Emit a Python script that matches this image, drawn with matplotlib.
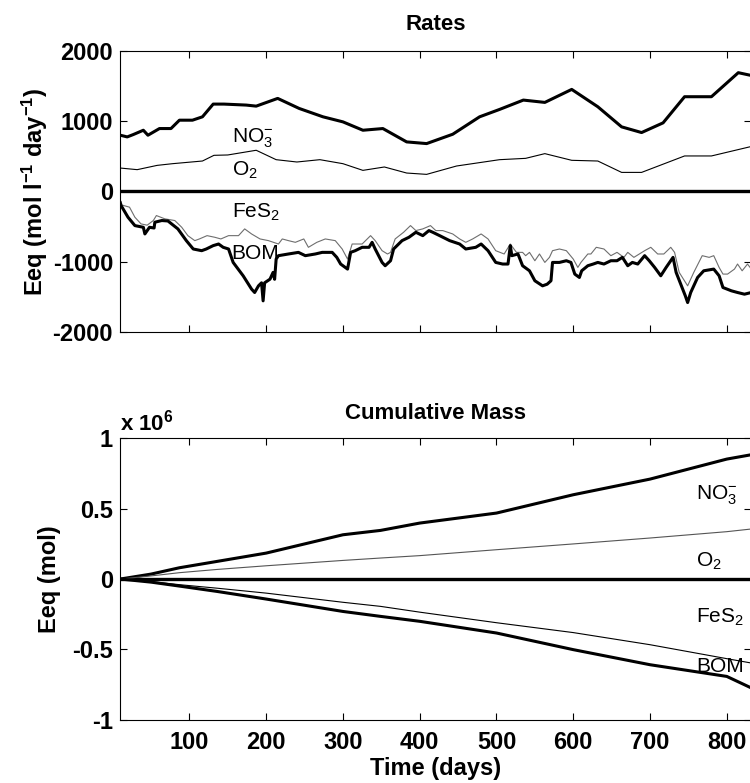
import matplotlib
matplotlib.use("Agg")
import matplotlib.pyplot as plt
from matplotlib.ticker import FuncFormatter

plt.rcParams['font.family'] = ['Liberation Sans', 'DejaVu Sans']
plt.rcParams['axes.unicode_minus'] = False
plt.rcParams['mathtext.fontset'] = 'custom'
plt.rcParams['mathtext.rm'] = 'Liberation Sans'
plt.rcParams['mathtext.it'] = 'Liberation Sans'
plt.rcParams['mathtext.bf'] = 'Liberation Sans:bold'

# ---- rates (Eeq mol l-1 day-1) ----
no3_day = [10, 19, 27, 40, 46, 61, 76, 87, 104, 117, 131, 145, 174, 187, 215, 243, 274, 300,
           326, 352, 383, 409, 443, 478, 504, 535, 563, 598, 632, 663, 689, 717, 745, 780, 815, 832]
no3_rate = [800, 776, 810, 871, 800, 895, 895, 1014, 1014, 1062, 1243, 1243, 1229, 1214, 1324,
            1181, 1062, 990, 871, 895, 705, 681, 814, 1062, 1167, 1300, 1267, 1452, 1205, 919,
            838, 976, 1348, 1348, 1690, 1650]

o2_day = [10, 32, 58, 78, 117, 132, 150, 187, 213, 240, 270, 300, 326, 354, 383, 409, 448,
          504, 538, 563, 598, 632, 663, 689, 745, 780, 832]
o2_rate = [333, 310, 371, 395, 433, 514, 519, 586, 452, 419, 452, 395, 300, 348, 262, 243, 362,
           452, 471, 538, 443, 433, 271, 271, 505, 505, 640]

bom_day = [10, 11, 20, 29, 40, 42, 48, 54, 55, 64, 72, 85, 96, 105, 116, 122, 131, 138, 144,
           151, 157, 170, 181, 185, 190, 194, 196, 198, 205, 209, 211, 213, 216, 229, 242, 251,
           264, 273, 286, 292, 297, 306, 310, 316, 325, 334, 338, 342, 351, 355, 362, 366, 377,
           386, 395, 404, 412, 417, 426, 439, 452, 460, 473, 480, 489, 499, 508, 515, 518, 520,
           528, 534, 543, 550, 560, 566, 571, 573, 582, 591, 597, 602, 608, 611, 619, 626, 632,
           640, 649, 657, 664, 671, 677, 684, 693, 699, 706, 714, 721, 730, 734, 740, 746, 749,
           753, 762, 770, 783, 790, 795, 806, 814, 823, 832]
bom_rate = [-160, -200, -367, -486, -510, -605, -510, -520, -438, -414, -420, -533, -700, -819,
            -843, -819, -771, -748, -795, -819, -1010, -1200, -1390, -1438, -1343, -1300, -1557,
            -1300, -1248, -1152, -1250, -962, -914, -890, -867, -914, -890, -867, -867, -938,
            -1033, -1105, -867, -843, -795, -795, -724, -819, -1010, -1057, -986, -819, -700,
            -652, -581, -629, -557, -581, -629, -700, -748, -819, -795, -748, -843, -1010, -1033,
            -1033, -771, -914, -890, -1057, -1129, -1271, -1343, -1320, -1271, -1010, -1010, -986,
            -1010, -1176, -1224, -1129, -1057, -1033, -1010, -1033, -986, -986, -938, -1057, -1010,
            -1033, -914, -986, -1081, -1200, -1081, -938, -1152, -1319, -1486, -1581, -1438, -1224,
            -1129, -1105, -1200, -1367, -1414, -1438, -1462, -1438]

fes2_day = [10, 11, 22, 29, 37, 45, 53, 57, 68, 81, 90, 98, 107, 113, 123, 133, 141, 151, 164,
            172, 181, 192, 203, 216, 221, 229, 238, 249, 255, 266, 277, 290, 299, 306, 312, 325,
            336, 342, 351, 358, 362, 368, 379, 388, 395, 404, 414, 421, 430, 443, 452, 460, 469,
            480, 489, 499, 510, 518, 526, 534, 538, 543, 550, 556, 563, 569, 573, 582, 591, 600,
            606, 610, 619, 623, 630, 640, 649, 657, 666, 671, 679, 693, 701, 710, 718, 727, 732,
            738, 749, 757, 768, 777, 783, 790, 795, 801, 810, 814, 820, 827, 832]
fes2_rate = [-160, -190, -224, -367, -462, -480, -414, -343, -390, -414, -510, -629, -700, -676,
             -629, -652, -676, -629, -629, -533, -605, -676, -700, -748, -676, -700, -724, -676,
             -795, -724, -676, -700, -819, -962, -748, -748, -629, -700, -843, -890, -867, -676,
             -581, -486, -557, -533, -486, -557, -557, -605, -676, -724, -676, -605, -676, -843,
             -890, -748, -867, -867, -914, -867, -986, -890, -1010, -938, -843, -819, -843, -962,
             -1081, -1010, -890, -890, -795, -819, -914, -867, -938, -867, -938, -843, -795, -890,
             -890, -795, -867, -1152, -1343, -1152, -914, -938, -914, -1081, -1176, -1176, -1105,
             -1033, -1129, -1033, -1105]

# ---- cumulative mass (Eeq mol) ----
cum_day = [10, 50, 87, 136, 200, 300, 349, 400, 500, 600, 700, 800, 832]
no3_cum = [0, 0.035e6, 0.080e6, 0.125e6, 0.184e6, 0.314e6, 0.345e6, 0.397e6, 0.468e6, 0.598e6,
           0.709e6, 0.851e6, 0.882e6]
o2_cum = [0, 0.022e6, 0.045e6, 0.068e6, 0.094e6, 0.132e6, 0.149e6, 0.166e6, 0.208e6, 0.249e6,
          0.291e6, 0.336e6, 0.355e6]
fes2_cum = [0, -0.018e6, -0.040e6, -0.065e6, -0.100e6, -0.165e6, -0.194e6, -0.235e6, -0.310e6,
            -0.380e6, -0.466e6, -0.565e6, -0.596e6]
bom_cum = [0, -0.022e6, -0.050e6, -0.088e6, -0.142e6, -0.230e6, -0.265e6, -0.300e6, -0.383e6,
           -0.501e6, -0.608e6, -0.691e6, -0.773e6]

xlim = (9.6, 831.7)
xticks = [100, 200, 300, 400, 500, 600, 700, 800]

fig = plt.figure(figsize=(7.5, 7.83), dpi=100)
ax1 = fig.add_axes([0.16, 0.576, 0.8415, 0.359])
ax2 = fig.add_axes([0.16, 0.0805, 0.8415, 0.36])

thick = 2.2
thin = 0.8
tick_fs = 17

for ax in (ax1, ax2):
    ax.set_xlim(*xlim)
    ax.set_xticks(xticks)
    ax.tick_params(direction='in', top=True, right=True, length=5, width=0.8,
                   labelsize=tick_fs)
    ax.tick_params(axis='y', pad=5)
    ax.tick_params(axis='x', pad=8)
    ax.spines['right'].set_visible(False)
    ax.axhline(0, color='black', lw=2.4)

# top panel
ax1.plot(no3_day, no3_rate, color='black', lw=thick)
ax1.plot(o2_day, o2_rate, color='black', lw=thin)
ax1.plot(fes2_day, fes2_rate, color='#6e6e6e', lw=thin)
ax1.plot(bom_day, bom_rate, color='black', lw=thick)
ax1.set_ylim(-2000, 2000)
ax1.set_yticks([-2000, -1000, 0, 1000, 2000])
ax1.set_xticklabels([])
ax1.set_title('Rates', fontsize=16, fontweight='bold', pad=15)
ax1.set_ylabel(r'Eeq (mol l$^{\mathbf{-1}}$ day$^{\mathbf{-1}}$)', fontsize=17,
               fontweight='bold', labelpad=2)
for lab in ax1.get_yticklabels():
    lab.set_fontweight('bold')

ax1.text(155, 700, r'NO$_3^{-}$', fontsize=15)
ax1.text(155, 229, r'O$_2$', fontsize=15)
ax1.text(155, -371, r'FeS$_2$', fontsize=15)
ax1.text(155, -957, 'BOM', fontsize=15)

# bottom panel
ax2.plot(cum_day, no3_cum, color='black', lw=thick)
ax2.plot(cum_day, o2_cum, color='#555555', lw=thin)
ax2.plot(cum_day, fes2_cum, color='black', lw=thin)
ax2.plot(cum_day, bom_cum, color='black', lw=thick)
ax2.set_ylim(-1e6, 1e6)
ax2.set_yticks([-1e6, -0.5e6, 0, 0.5e6, 1e6])
ax2.yaxis.set_major_formatter(FuncFormatter(lambda v, p: '%g' % (v / 1e6)))
for lab in ax2.get_yticklabels() + ax2.get_xticklabels():
    lab.set_fontweight('bold')
ax2.set_title('Cumulative Mass', fontsize=16, fontweight='bold', pad=14)
ax2.set_ylabel('Eeq (mol)', fontsize=17, fontweight='bold', labelpad=8)
ax2.set_xlabel('Time (days)', fontsize=17, fontweight='bold', labelpad=2)
ax2.text(0.0, 1.01, r'x 10$^{\mathbf{6}}$', transform=ax2.transAxes, fontsize=16,
         fontweight='bold', ha='left', va='bottom')

ax2.text(760, 0.562e6, r'NO$_3^{-}$', fontsize=15)
ax2.text(760, 0.087e6, r'O$_2$', fontsize=15)
ax2.text(760, -0.31e6, r'FeS$_2$', fontsize=15)
ax2.text(760, -0.657e6, 'BOM', fontsize=15)

fig.savefig('out.png', dpi=100)
